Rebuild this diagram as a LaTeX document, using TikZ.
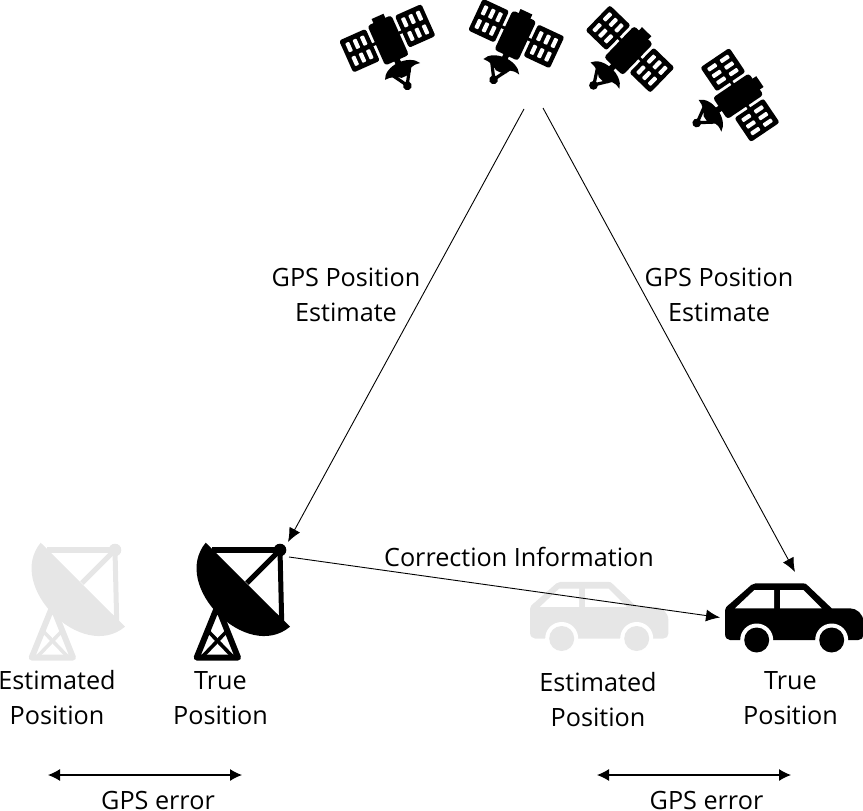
\documentclass[tikz,border=0pt]{standalone}
\usepackage{fontspec}
\setmainfont{Open Sans}
\usetikzlibrary{arrows.meta}
\newcommand{\lblfont}{\fontsize{25.2}{35}\selectfont}
\definecolor{ghost}{HTML}{E6E6E6}
\newcommand{\wingat}[1]{%
  \begin{scope}[shift={(#1,0)}]
    \fill[black,rounded corners=2.5pt] (-14.5,-17.5) rectangle (14.5,17.5);
    \foreach \cx in {-8,0,8}\foreach \cy in {-7.5,7.5}
      \fill[white,rounded corners=0.8pt] (\cx-2.1,\cy-5) rectangle (\cx+2.1,\cy+5);
  \end{scope}}
\tikzset{
  x=1pt,y=-1pt,
  lbl/.style={font=\lblfont,align=center,inner sep=0pt,text=black},
  conn/.style={draw=black,line width=0.9pt,-{Latex[length=14pt,width=12pt]}},
  span/.style={draw=black,line width=1.1pt,{Latex[length=12pt,width=12pt]}-{Latex[length=12pt,width=12pt]}},
  pics/satellite/.style={code={
    \wingat{-30.5}
    \wingat{30.5}
    \fill[black] (-18,-1.5) rectangle (18,1.5);
    \fill[black,rounded corners=3pt] (-13,-19.5) rectangle (13,24);
    \fill[black] (-6.5,-24) rectangle (6.5,-18);
    \fill[black] (-3,22) rectangle (3,30);
    \fill[black] (-19,37) .. controls (-14,24) and (13,23) .. (20,36)
       .. controls (11,34) and (7,37) .. (3,42) -- (-3,42) .. controls (-6,39) and (-12,36.5) .. (-19,37) -- cycle;
    \draw[black,line width=3.2pt,line cap=round] (-11,35) -- (-1,51) -- (9,35);
    \draw[black,line width=2.4pt] (-8,39) -- (8,39);
    \fill[black] (-1,51.5) circle (4.4);
  }},
  pics/antenna/.style={code={
    \fill[#1] (-74.3,-7.3) .. controls (-110,35.8) and (-33,112.8) .. (10,76.7) -- cycle;
    \draw[#1,line width=5.5pt] (-68,0) -- (0,0);
    \draw[#1,line width=5pt] (0,0) -- (1.7,72);
    \draw[#1,line width=5pt] (0,0) -- (-33,33);
    \fill[#1] (0,0) circle (6.3);
    \draw[#1,line width=6pt,line join=round] (-64,60) -- (-83.3,107.5) -- (-42,107.5) -- (-61,60);
    \draw[#1,line width=3.6pt] (-71,82) -- (-48,106);
    \draw[#1,line width=3.6pt] (-54,82) -- (-77,106);
  }},
  pics/auto/.style={code={
    \fill[#1] (-31.7,-6) .. controls (-31.7,-2) and (-29,0) .. (-26.7,0) -- (101.7,0)
       .. controls (104.7,0) and (106.7,-2) .. (106.7,-5) -- (106.7,-18.3)
       .. controls (106.7,-26) and (100,-31.7) .. (93.3,-31.7) -- (75,-31.7)
       -- (50.5,-55) .. controls (49.5,-56) and (48.5,-56.7) .. (46,-56.7)
       -- (-1,-56.7) .. controls (-3,-56.7) and (-4,-56) .. (-5.5,-55)
       -- (-27,-36) .. controls (-30,-34) and (-31.7,-32) .. (-31.7,-28) -- cycle;
    \fill[white] (-21.7,-31.7) -- (-2.3,-50) -- (17.3,-50) -- (17.3,-31.7) -- cycle;
    \fill[white] (23.3,-50) -- (46.7,-50) -- (65,-31.7) -- (23.3,-31.7) -- cycle;
    \foreach \wx in {0,75} {
      \fill[white] (\wx,0) circle (16.5);
      \fill[#1] (\wx,0) circle (12.5);
    }
  }}
}
\begin{document}
\begin{tikzpicture}
\useasboundingbox (0,0) rectangle (863,811);
% satellites
\pic[rotate=24]  at (387.3,38.3) {satellite};
\pic[rotate=-25] at (516.3,33.5) {satellite};
\pic[rotate=-44] at (630,49)     {satellite};
\pic[rotate=-56] at (740,95)     {satellite};
% ground objects
\pic at (115,550) {antenna=ghost};
\pic at (280,550) {antenna=black};
\pic at (561.7,638.5) {auto=ghost};
\pic at (756.7,640) {auto=black};
% connector end points
\coordinate (satA) at (524,109);
\coordinate (satB) at (543,108);
\coordinate (dishIn) at (288,542);
\coordinate (dishOut) at (289,557);
\coordinate (carIn) at (795,572);
\coordinate (carSide) at (720,617.5);
\coordinate (errAl) at (48,775);
\coordinate (errAr) at (242,775);
\coordinate (errBl) at (597,775);
\coordinate (errBr) at (791,775);
\draw[conn] (satA) -- (dishIn);
\draw[conn] (satB) -- (carIn);
\draw[conn] (dishOut) -- (carSide);
\draw[span] (errAl) -- (errAr);
\draw[span] (errBl) -- (errBr);
% labels
\node[lbl] (gpsL) at (346,295) {GPS Position\\Estimate};
\node[lbl] (gpsR) at (719,295) {GPS Position\\Estimate};
\node[lbl] (corr) at (519,557) {Correction Information};
\node[lbl] (estA) at (57,698) {Estimated\\Position};
\node[lbl] (truA) at (220.5,698) {True\\Position};
\node[lbl] (estB) at (598,700) {Estimated\\Position};
\node[lbl] (truB) at (790.5,698) {True\\Position};
\node[lbl,anchor=base] (errA) at (158,809.5) {GPS error};
\node[lbl,anchor=base] (errB) at (706.5,809.5) {GPS error};
\end{tikzpicture}
\end{document}
